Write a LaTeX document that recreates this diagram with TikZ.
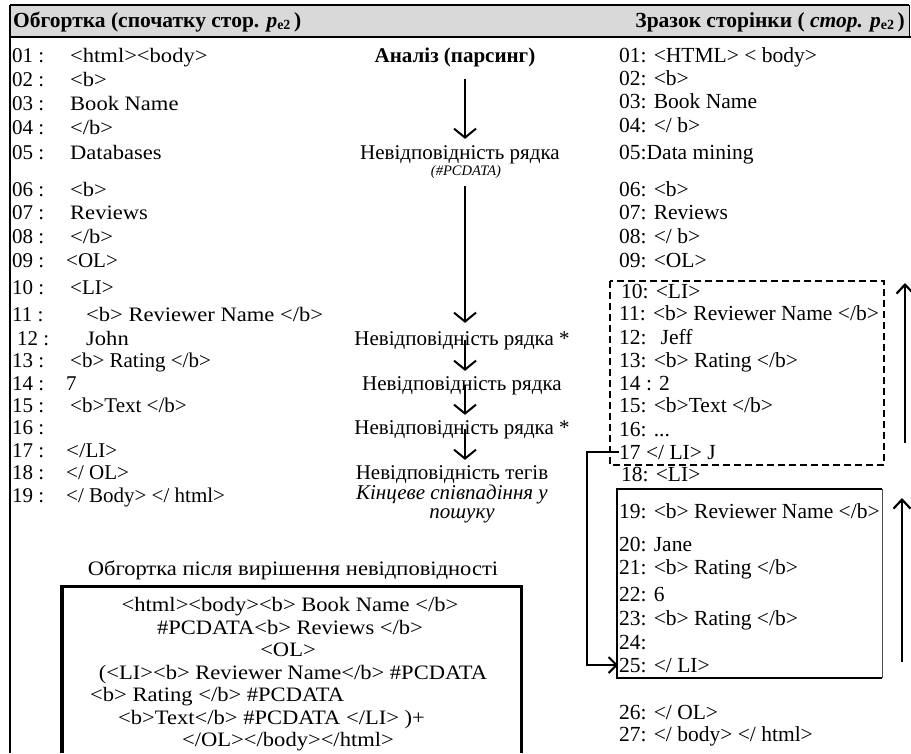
\documentclass[tikz,border=0pt]{standalone}
\usepackage{fontspec}
\setmainfont{Liberation Serif}
\newfontfamily\bookf{Liberation Serif}[FakeStretch=1.1]
\usetikzlibrary{arrows.meta}
\definecolor{headgray}{RGB}{217,217,217}
\tikzset{
  tx/.style={inner sep=0pt, anchor=base west, font=\fontsize{21.5}{24}\selectfont},
  nm/.style={inner sep=0pt, anchor=base west, font=\fontsize{21}{24}\selectfont},
  bk/.style={inner sep=0pt, anchor=base west, font=\fontsize{20.5}{24}\bookf},
  mid/.style={inner sep=0pt, anchor=base, font=\fontsize{21}{24}\selectfont},
  wrap/.style={inner sep=0pt, anchor=base, font=\fontsize{20.5}{24}\bookf},
  hd/.style={inner sep=0pt, font=\fontsize{21.5}{24}\selectfont\bfseries},
  flow/.style={line width=2pt, -{Straight Barb[length=9pt,width=22pt,line width=2pt]}},
  uparr/.style={line width=2pt, -{Straight Barb[length=9pt,width=17pt,line width=2.2pt]}},
  elbow/.style={line width=2.5pt, -{Straight Barb[length=8pt,width=16pt,line width=2pt]}},
  frame/.style={line width=2.5pt},
}
\begin{document}
\begin{tikzpicture}[x=1pt,y=-1pt]
\useasboundingbox (0,0) rectangle (911,753);

% header band
\fill[headgray] (10,5) rectangle (909,37);
\draw[line width=2pt] (10,5) -- (909,5);
\draw[line width=1pt] (909,5) -- (909,37);
\draw[frame] (10,37) -- (911,37);
\draw[frame] (10,5) -- (10,753);
\node[hd, anchor=base west] (hl) at (13,27) {Обгортка (спочатку стор. \textit{p}{\fontsize{14}{16}\selectfont\raisebox{-2.5pt}{e2}}\,)};
\node[hd, anchor=base east] (hr) at (905,27) {Зразок сторінки ( \textit{стор.} \textit{p}{\fontsize{14}{16}\selectfont\raisebox{-2.5pt}{e2}}\,)};

% wrapper, left column
\node[nm] (ln01) at (12,62) {01 :};  \node[bk] (lt01) at (70,62) {<html><body>};
\node[nm] (ln02) at (12,86) {02 :};  \node[bk] (lt02) at (70,86) {<b>};
\node[nm] (ln03) at (12,110) {03 :}; \node[bk] (lt03) at (70,110) {Book Name};
\node[nm] (ln04) at (12,134) {04 :}; \node[bk] (lt04) at (70,134) {</b>};
\node[nm] (ln05) at (12,159) {05 :}; \node[bk] (lt05) at (70,159) {Databases};
\node[nm] (ln06) at (12,196) {06 :}; \node[bk] (lt06) at (70,196) {<b>};
\node[nm] (ln07) at (12,219) {07 :}; \node[bk] (lt07) at (70,219) {Reviews};
\node[nm] (ln08) at (12,243) {08 :}; \node[bk] (lt08) at (70,243) {</b>};
\node[nm] (ln09) at (12,267) {09 :}; \node[nm] (lt09) at (66,267) {<OL>};
\node[nm] (ln10) at (12,294) {10 :}; \node[nm] (lt10) at (70,294) {<LI>};
\node[nm] (ln11) at (12,321) {11 :}; \node[bk] (lt11) at (86,321) {<b> Reviewer Name </b>};
\node[nm] (ln12) at (17,345) {12 :}; \node[bk] (lt12) at (86,345) {John};
\node[nm] (ln13) at (12,367) {13 :}; \node[nm] (lt13) at (70,367) {<b> Rating </b>};
\node[nm] (ln14) at (12,390) {14 :}; \node[nm] (lt14) at (66,390) {7};
\node[nm] (ln15) at (12,412) {15 :}; \node[nm] (lt15) at (70,412) {<b>Text </b>};
\node[nm] (ln16) at (12,434) {16 :};
\node[nm] (ln17) at (12,457) {17 :}; \node[nm] (lt17) at (66,457) {{\bookf </}LI>};
\node[nm] (ln18) at (12,479) {18 :}; \node[nm] (lt18) at (66,479) {</ OL>};
\node[nm] (ln19) at (12,502) {19 :}; \node[nm] (lt19) at (66,502) {</ Body> </ html>};

% parsing steps, middle column
\coordinate (ax) at (465,0);
\node[mid, font=\fontsize{21}{24}\selectfont\bfseries] (m0) at (455,62) {Аналіз (парсинг)};
\node[mid] (m1) at (460,159) {Невідповідність рядка};
\node[mid, font=\fontsize{14.5}{16}\selectfont\itshape] (m1b) at (466,175) {(\#PCDATA)};
\node[mid] (m2) at (462,345) {Невідповідність рядка *};
\node[mid] (m3) at (462,390) {Невідповідність рядка};
\node[mid] (m4) at (462,434) {Невідповідність рядка *};
\node[mid] (m5) at (452,479) {Невідповідність тегів};
\node[mid, font=\fontsize{21}{24}\selectfont\itshape] (m6) at (452,499) {Кінцеве співпадіння у};
\node[mid, font=\fontsize{21}{24}\selectfont\itshape] (m7) at (462,518) {пошуку};

\draw[flow] ([yshift=-12pt]m0.south -| ax) -- ([yshift=6pt]m1.north -| ax);
\draw[flow] ([yshift=-8pt]m1b.south -| ax) -- ([yshift=8pt]m2.north -| ax);
\draw[flow] ([yshift=5pt]m2.base -| ax) -- ([yshift=5pt]m3.north -| ax);
\draw[flow] ([yshift=5pt]m3.base -| ax) -- ([yshift=5pt]m4.north -| ax);
\draw[flow] ([yshift=5pt]m4.base -| ax) -- ([yshift=5pt]m5.north -| ax);

% page sample, right column
\node[tx] (r01) at (619,62) {01: <HTML> < body>};
\node[tx] (r02) at (619,85) {02: <b>};
\node[tx] (r03) at (619,108) {03: Book Name};
\node[tx] (r04) at (619,132) {04: </ b>};
\node[tx] (r05) at (619,159) {05:Data mining};
\node[tx] (r06) at (619,196) {06: <b>};
\node[tx] (r07) at (619,219) {07: Reviews};
\node[tx] (r08) at (619,243) {08: </ b>};
\node[tx] (r09) at (619,267) {09: <OL>};
\node[tx] (r10) at (621,298) {10: <LI>};
\node[tx] (r11) at (619,320) {11: <b> Reviewer Name </b>};
\node[tx] (r12) at (619,344) {12:\hspace{14pt}Jeff};
\node[tx] (r13) at (619,367) {13: <b> Rating </b>};
\node[tx] (r14) at (619,390) {14 : 2};
\node[tx] (r15) at (619,412) {15: <b>Text </b>};
\node[tx] (r16) at (619,436) {16: ...};
\node[tx] (r17) at (619,459) {17 </ LI> J};
\node[tx] (r18) at (621,481) {18: <LI>};
\node[tx] (r19) at (619,518) {19: <b> Reviewer Name </b>};
\node[tx] (r20) at (619,551) {20: Jane};
\node[tx] (r21) at (619,574) {21: <b> Rating </b>};
\node[tx] (r22) at (619,601) {22: 6};
\node[tx] (r23) at (619,625) {23: <b> Rating </b>};
\node[tx] (r24) at (619,649) {24:};
\node[tx] (r25) at (619,672) {25: </ LI>};
\node[tx] (r26) at (619,719) {26: </ OL>};
\node[tx] (r27) at (619,741) {27: </ body> </ html>};

% repeated record groups
\draw[line width=1.8pt, dash pattern=on 7pt off 4pt] (610,281) rectangle (884,465);
\draw[line width=2pt] (882,489) -- (617,489) -- (617,678) -- (882,678);
\draw[line width=1pt, black!70] (882,489) -- (882,678);
\coordinate (u1a) at (905,443); \coordinate (u1b) at (905,283);
\coordinate (u2a) at (902,662); \coordinate (u2b) at (902,498);
\draw[uparr] (u1a) -- (u1b);
\draw[uparr] (u2a) -- (u2b);
\draw[elbow] (r17.west) -- ++(-32,0) |- ([xshift=-1pt]r25.west);

% wrapper after resolving the mismatches
\node[wrap] (wt) at (293,575) {Обгортка після вирішення невідповідності};
\draw[line width=3.5pt] (62,753) -- (62,586);
\draw[line width=3pt] (60.25,586) -- (521,586) -- (521,753);
\node[wrap] (w1) at (290,611) {<html><body><b> Book Name </b>};
\node[wrap] (w2) at (290,634) {\#PCDATA<b> Reviews </b>};
\node[wrap] (w3) at (288,656) {<OL>};
\node[wrap] (w4) at (293,679) {(<LI><b> Reviewer Name</b> \#PCDATA};
\node[bk] (w5) at (90,701) {<b> Rating </b> \#PCDATA};
\node[bk] (w6) at (118,724) {<b>Text</b> \#PCDATA </LI> )+};
\node[wrap] (w7) at (288,746) {</OL></body></html>};
\end{tikzpicture}
\end{document}
